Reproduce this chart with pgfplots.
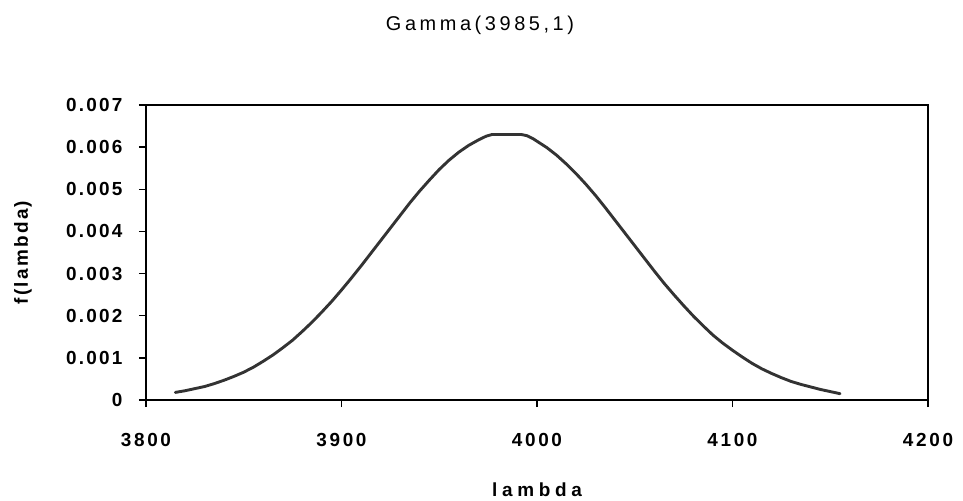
\documentclass[border=0pt]{standalone}
\usepackage{fontspec}
\setmainfont{Liberation Sans}
\usepackage{pgfplots}
\pgfplotsset{compat=1.18}
\definecolor{curve}{HTML}{333333}
\newcommand{\spc}[1]{\addfontfeatures{LetterSpace=#1}}

\begin{document}
\begin{tikzpicture}
\begin{axis}[
    scale only axis,
    width=782bp, height=295bp,
    xmin=3800, xmax=4200,
    ymin=0, ymax=0.007,
    xtick={3800,3900,4000,4100,4200},
    ytick={0,0.001,0.002,0.003,0.004,0.005,0.006,0.007},
    yticklabels={0,0.001,0.002,0.003,0.004,0.005,0.006,0.007},
    scaled y ticks=false,
    xticklabel style={font=\fontsize{19}{22}\selectfont\bfseries\spc{14}, yshift=-23bp},
    yticklabel style={font=\fontsize{19}{22}\selectfont\bfseries\spc{12}, xshift=-13bp},
    /pgf/number format/assume math mode=true,
    /pgf/number format/1000 sep={},
    tick align=outside,
    tick pos=left,
    major tick length=7bp,
    axis line style={line width=1.3pt},
    every tick/.style={black, line width=1.3pt},
    clip=false,
]
% density (peak flat at 0.0063)
\addplot[line width=2.9pt, curve, line join=round, line cap=round] coordinates {
    (3815,0.00018) (3820,0.00022) (3825,0.00027) (3830,0.00032) (3835,0.00039)
    (3840,0.00047) (3845,0.00056) (3850,0.00066) (3855,0.00078) (3860,0.00092)
    (3865,0.00107) (3870,0.00124) (3875,0.00142) (3880,0.00163) (3885,0.00185)
    (3890,0.00209) (3895,0.00234) (3900,0.00261) (3905,0.00289) (3910,0.00318)
    (3915,0.00348) (3920,0.00378) (3925,0.00408) (3930,0.00438) (3935,0.00468)
    (3940,0.00496) (3945,0.00522) (3950,0.00547) (3955,0.00569) (3960,0.00588)
    (3965,0.00604) (3970,0.00617) (3974,0.00626) (3977,0.00630) (3985,0.00630)
    (3992,0.00630) (3995,0.00627) (3998,0.00620) (4000,0.00614) (4005,0.00599)
    (4010,0.00581) (4015,0.00560) (4020,0.00537) (4025,0.00512) (4030,0.00485)
    (4035,0.00456) (4040,0.00426) (4045,0.00396) (4050,0.00366) (4055,0.00336)
    (4060,0.00306) (4065,0.00277) (4070,0.00250) (4075,0.00224) (4080,0.00199)
    (4085,0.00176) (4090,0.00154) (4095,0.00135) (4100,0.00118) (4105,0.00102)
    (4110,0.00087) (4115,0.00074) (4120,0.00063) (4125,0.00053) (4130,0.00044)
    (4135,0.00037) (4140,0.00031) (4145,0.00025) (4150,0.00020) (4155,0.00015)
};
\end{axis}
% right and top frame lines (Excel plot area border)
\draw[line width=1.3pt] (0,295bp) -- (782bp,295bp) -- (782bp,0);
% titles
\node[font=\fontsize{20}{24}\selectfont\spc{18}] at (334bp,375bp) {Gamma(3985,1)};
\node[font=\fontsize{19}{22}\selectfont\bfseries\spc{25}] at (391bp,-90bp) {lambda};
\node[font=\fontsize{19}{22}\selectfont\bfseries\spc{12}, rotate=90] at (-123bp,147.5bp) {f(lambda)};
\useasboundingbox (-146bp,-100bp) rectangle (817bp,400bp);
\end{tikzpicture}
\end{document}
